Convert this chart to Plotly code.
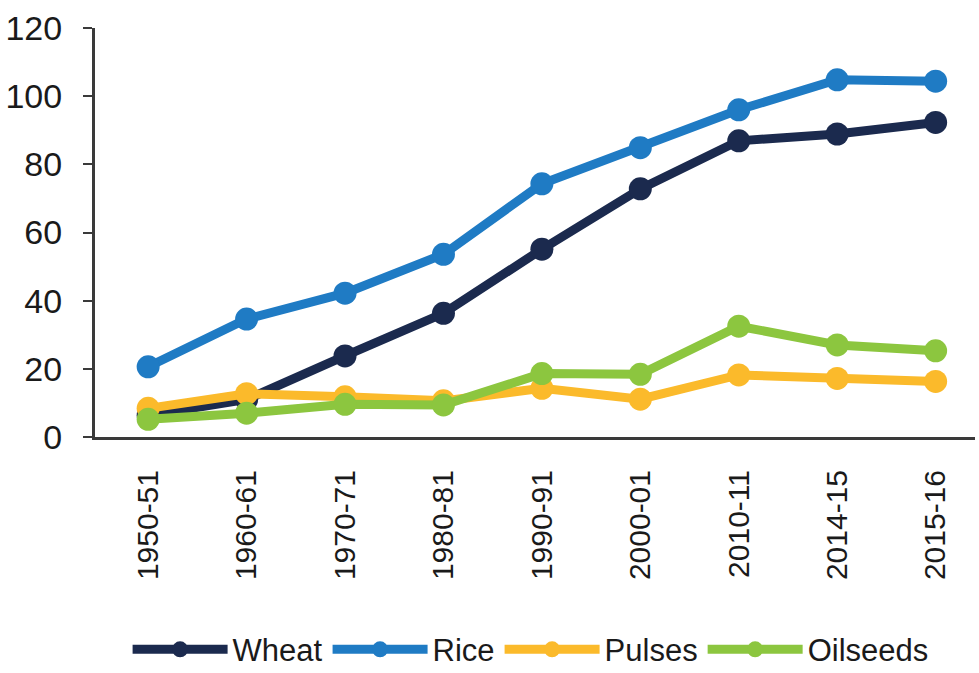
import plotly.graph_objects as go

years = ["1950-51", "1960-61", "1970-71", "1980-81", "1990-91", "2000-01", "2010-11", "2014-15", "2015-16"]
wheat = [6.4, 11.0, 23.8, 36.3, 55.1, 72.8, 86.9, 88.9, 92.3]
rice = [20.6, 34.6, 42.2, 53.6, 74.3, 84.9, 96.0, 104.8, 104.4]
pulses = [8.4, 12.7, 11.8, 10.6, 14.3, 11.1, 18.2, 17.2, 16.3]
oilseeds = [5.2, 7.0, 9.6, 9.4, 18.6, 18.4, 32.5, 27.0, 25.3]
series_names = ["Wheat", "Rice", "Pulses", "Oilseeds"]
colors = ["#1b2a4e", "#1f7bc4", "#fbba2b", "#8cc63f"]
y_ticks = [0, 20, 40, 60, 80, 100, 120]

fig = go.Figure()
for name, vals, col in zip(series_names, [wheat, rice, pulses, oilseeds], colors):
    fig.add_trace(go.Scatter(
        x=years, y=vals, name=name, mode="lines+markers",
        line=dict(color=col, width=9),
        marker=dict(color=col, size=23),
    ))

# draw order: rice below wheat, pulses/oilseeds on top
fig.data = (fig.data[1], fig.data[0], fig.data[2], fig.data[3])

fig.update_layout(
    width=979, height=673,
    margin=dict(l=95, r=4, t=28, b=236, autoexpand=False),
    paper_bgcolor="white", plot_bgcolor="white",
    font=dict(family="Liberation Sans, Arial, sans-serif", color="#1a1a1a"),
    showlegend=True,
    legend=dict(
        orientation="h", x=0.495, xanchor="center", y=-0.52, yanchor="middle",
        font=dict(size=31), traceorder="normal", itemwidth=95,
    ),
)
fig.update_xaxes(
    type="category", categoryorder="array", categoryarray=years,
    range=[-0.54, 8.4], automargin=False,
    showline=True, linecolor="#3a3a3a", linewidth=3,
    showgrid=False, ticks="", tickangle=-90,
    tickfont=dict(size=30), ticklabelstandoff=18,
)
fig.update_yaxes(
    range=[0, 120], tickvals=y_ticks, automargin=False,
    showline=True, linecolor="#3a3a3a", linewidth=3,
    showgrid=False, zeroline=False,
    ticks="outside", ticklen=9, tickwidth=2, tickcolor="#3a3a3a",
    tickfont=dict(size=34), ticklabelstandoff=14,
)

order = {"Wheat": 0, "Rice": 1, "Pulses": 2, "Oilseeds": 3}
for tr in fig.data:
    tr.legendrank = order[tr.name]

fig.write_html(
    "out.html",
    config={"displayModeBar": False},
    post_script="document.body.style.margin='0';document.body.style.overflow='hidden';",
)
